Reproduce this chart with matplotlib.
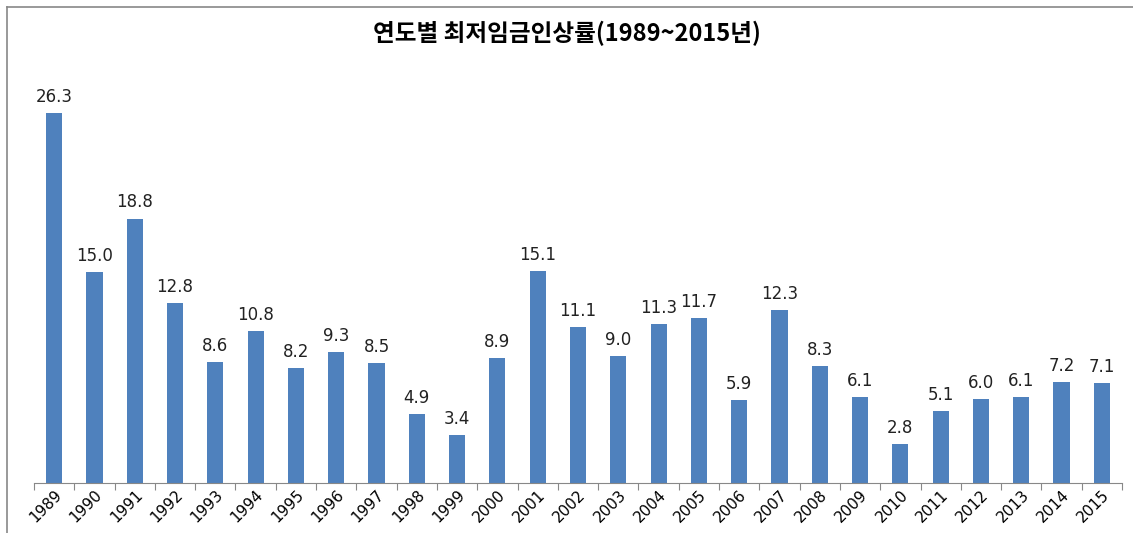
import matplotlib
matplotlib.use("Agg")
import matplotlib.pyplot as plt
from matplotlib.lines import Line2D

plt.rcParams['font.family'] = ['Noto Sans CJK KR', 'DejaVu Sans']

years = [str(y) for y in range(1989, 2016)]
rates = [26.3, 15.0, 18.8, 12.8, 8.6, 10.8, 8.2, 9.3, 8.5, 4.9, 3.4, 8.9, 15.1,
         11.1, 9.0, 11.3, 11.7, 5.9, 12.3, 8.3, 6.1, 2.8, 5.1, 6.0, 6.1, 7.2, 7.1]
title = "연도별 최저임금인상률(1989~2015년)"

W, H = 1133, 533
fig = plt.figure(figsize=(W / 100, H / 100), dpi=100)
left, right, bottom = 34, 1122, 483
ytop = 28.0
ppu = (483 - 113) / 26.3
top = bottom - ytop * ppu
ax = fig.add_axes([left / W, 1 - bottom / H, (right - left) / W, (bottom - top) / H])

x = list(range(len(years)))
ax.bar(x, rates, width=0.4, color='#4f81bd')
for xi, v in zip(x, rates):
    ax.text(xi, v + 0.5, f"{v:.1f}", ha='center', va='bottom', fontsize=12,
            family=['DejaVu Sans'], color='#222222')

ax.set_xlim(-0.5, len(years) - 0.5)
ax.set_ylim(0, ytop)
for s in ['top', 'right', 'left']:
    ax.spines[s].set_visible(False)
ax.spines['bottom'].set_color('#888888')
ax.set_yticks([])
ax.set_xticks([i - 0.5 for i in range(len(years) + 1)], minor=False)
ax.set_xticklabels([])
ax.tick_params(axis='x', which='major', length=5, color='#888888', direction='out')
ax.set_xticks(x, minor=True)
ax.set_xticklabels(years, minor=True, rotation=45, ha='right', rotation_mode='anchor',
                   fontsize=11, family=['DejaVu Sans'])
ax.tick_params(axis='x', which='minor', length=0, pad=3)

fig.text(0.5, 1 - 33 / H, title, ha='center', va='center', fontsize=17, fontweight='bold')

# figure frame (top and left)
fig.add_artist(Line2D([7 / W, 1], [1 - 7 / H, 1 - 7 / H], color='#888888', lw=1.2))
fig.add_artist(Line2D([7 / W, 7 / W], [0, 1 - 7 / H], color='#888888', lw=1.2))

fig.savefig('out.png', dpi=100)
